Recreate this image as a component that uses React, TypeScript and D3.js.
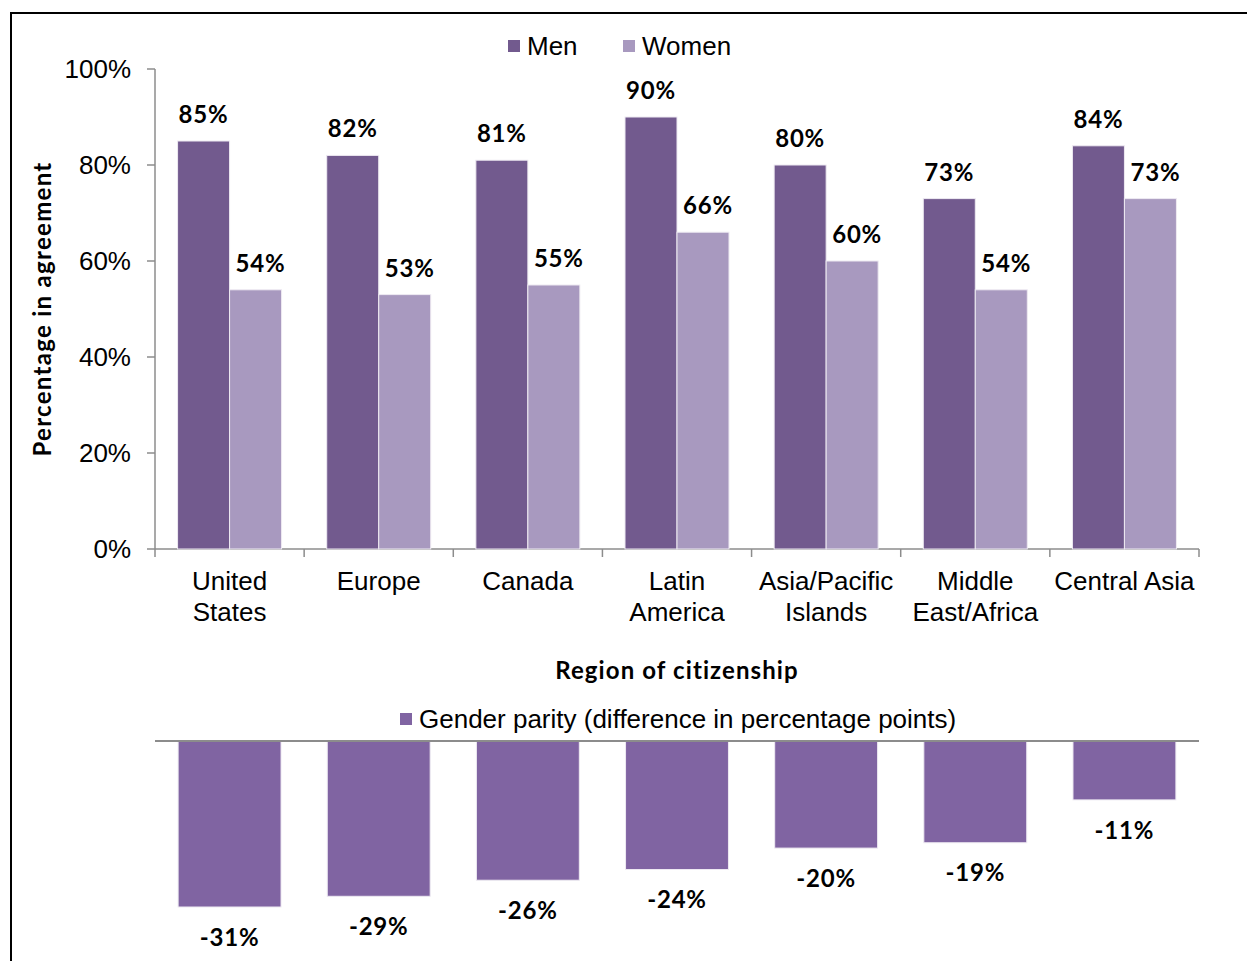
import React, { useEffect, useRef } from "react";
import * as d3 from "d3";

const regions = [
  ["United", "States"],
  ["Europe"],
  ["Canada"],
  ["Latin", "America"],
  ["Asia/Pacific", "Islands"],
  ["Middle", "East/Africa"],
  ["Central Asia"],
];
const men = [85, 82, 81, 90, 80, 73, 84];
const women = [54, 53, 55, 66, 60, 54, 73];
const parity = [-31, -29, -26, -24, -20, -19, -11];
const yTicks = [0, 20, 40, 60, 80, 100];

const W = 1247;
const H = 961;
const MEN = "#725a8e";
const WOMEN = "#a899bf";
const PARITY = "#8064a2";
const AXIS = "#8c8c8c";
const SANS = "Liberation Sans, Arial, sans-serif";
const BOLD = "Lato, sans-serif";

export default function App() {
  const ref = useRef<SVGSVGElement>(null);

  useEffect(() => {
    const svg = d3.select(ref.current);
    svg.selectAll("*").remove();

    // frame (left + top edge only, the rest is cut off)
    svg.append("path")
      .attr("d", "M11,961 V13 H1247")
      .attr("fill", "none")
      .attr("stroke", "#000")
      .attr("stroke-width", 2);

    const keys = regions.map((r) => r.join(" "));
    const x = d3.scaleBand().domain(keys).range([155, 1199]);
    const y = d3.scaleLinear().domain([0, 100]).range([549, 69]);

    // top chart: y axis
    const gy = svg.append("g").attr("transform", "translate(155,0)");
    gy.append("line").attr("y1", y(100)).attr("y2", y(0)).attr("stroke", AXIS).attr("stroke-width", 1.5);
    yTicks.forEach((t) => {
      gy.append("line").attr("x1", -8).attr("x2", 0).attr("y1", y(t)).attr("y2", y(t))
        .attr("stroke", AXIS).attr("stroke-width", 1.5);
      gy.append("text").text(t + "%").attr("x", -24).attr("y", y(t)).attr("dy", "0.36em")
        .attr("text-anchor", "end").attr("font-family", SANS).attr("font-size", 26).attr("fill", "#000");
    });

    // x axis
    svg.append("line").attr("x1", 155).attr("x2", 1199).attr("y1", y(0)).attr("y2", y(0))
      .attr("stroke", AXIS).attr("stroke-width", 1.5);
    keys.concat(["end"]).forEach((k, i) => {
      const xp = 155 + i * x.step();
      svg.append("line").attr("x1", xp).attr("x2", xp).attr("y1", y(0)).attr("y2", y(0) + 8)
        .attr("stroke", AXIS).attr("stroke-width", 1.5);
    });

    const half = 52;
    const g = svg.append("g");
    keys.forEach((k, i) => {
      const cx = x(k)! + x.bandwidth() / 2;
      g.append("rect").attr("x", cx - half).attr("y", y(men[i])).attr("width", half)
        .attr("height", y(0) - y(men[i])).attr("fill", MEN).attr("stroke", "#eeeaf2").attr("stroke-width", 1);
      g.append("rect").attr("x", cx).attr("y", y(women[i])).attr("width", half)
        .attr("height", y(0) - y(women[i])).attr("fill", WOMEN).attr("stroke", "#eeeaf2").attr("stroke-width", 1);
      g.append("text").text(men[i] + "%").attr("x", cx - half / 2).attr("y", y(men[i]) - 18)
        .attr("text-anchor", "middle").attr("font-family", BOLD).attr("font-weight", "bold")
        .attr("font-size", 24).attr("letter-spacing", 0.8);
      g.append("text").text(women[i] + "%").attr("x", cx + half / 2 + 5).attr("y", y(women[i]) - 18)
        .attr("text-anchor", "middle").attr("font-family", BOLD).attr("font-weight", "bold")
        .attr("font-size", 24).attr("letter-spacing", 0.8);
      regions[i].forEach((line, j) => {
        g.append("text").text(line).attr("x", cx).attr("y", 590 + j * 31)
          .attr("text-anchor", "middle").attr("font-family", SANS).attr("font-size", 26);
      });
    });

    // axis titles
    svg.append("text").text("Region of citizenship").attr("x", 677).attr("y", 679)
      .attr("text-anchor", "middle").attr("font-family", BOLD).attr("font-weight", "bold")
      .attr("font-size", 24).attr("letter-spacing", 1.1);
    svg.append("text").text("Percentage in agreement")
      .attr("transform", "translate(51,309) rotate(-90)")
      .attr("text-anchor", "middle").attr("font-family", BOLD).attr("font-weight", "bold")
      .attr("font-size", 24).attr("letter-spacing", 1.3);

    // top legend
    const legend = [["Men", MEN, 508], ["Women", WOMEN, 623]] as const;
    legend.forEach(([name, col, lx]) => {
      svg.append("rect").attr("x", lx).attr("y", 40).attr("width", 12).attr("height", 12).attr("fill", col);
      svg.append("text").text(name).attr("x", lx + 19).attr("y", 55)
        .attr("font-family", SANS).attr("font-size", 26);
    });

    // bottom chart: gender parity
    const y2 = d3.scaleLinear().domain([0, -31]).range([741, 907]);
    const bw = x.bandwidth() * 0.69;
    keys.forEach((k, i) => {
      const cx = x(k)! + x.bandwidth() / 2;
      svg.append("rect").attr("x", cx - bw / 2).attr("y", y2(0)).attr("width", bw)
        .attr("height", y2(parity[i]) - y2(0)).attr("fill", PARITY).attr("stroke", "#eeeaf2").attr("stroke-width", 1);
      svg.append("text").text(parity[i] + "%").attr("x", cx).attr("y", y2(parity[i]) + 30).attr("dy", "0.36em")
        .attr("text-anchor", "middle").attr("font-family", BOLD).attr("font-weight", "bold")
        .attr("font-size", 24).attr("letter-spacing", 0.8);
    });
    svg.append("line").attr("x1", 155).attr("x2", 1199).attr("y1", y2(0)).attr("y2", y2(0))
      .attr("stroke", AXIS).attr("stroke-width", 2);

    svg.append("rect").attr("x", 400).attr("y", 713).attr("width", 12).attr("height", 12).attr("fill", PARITY);
    svg.append("text").text("Gender parity (difference in percentage points)").attr("x", 419).attr("y", 728)
      .attr("font-family", SANS).attr("font-size", 26);
  }, []);

  return (
    <svg ref={ref} width={W} height={H} viewBox={`0 0 ${W} ${H}`}
      style={{ position: "absolute", left: 0, top: 0, background: "#fff" }} />
  );
}
